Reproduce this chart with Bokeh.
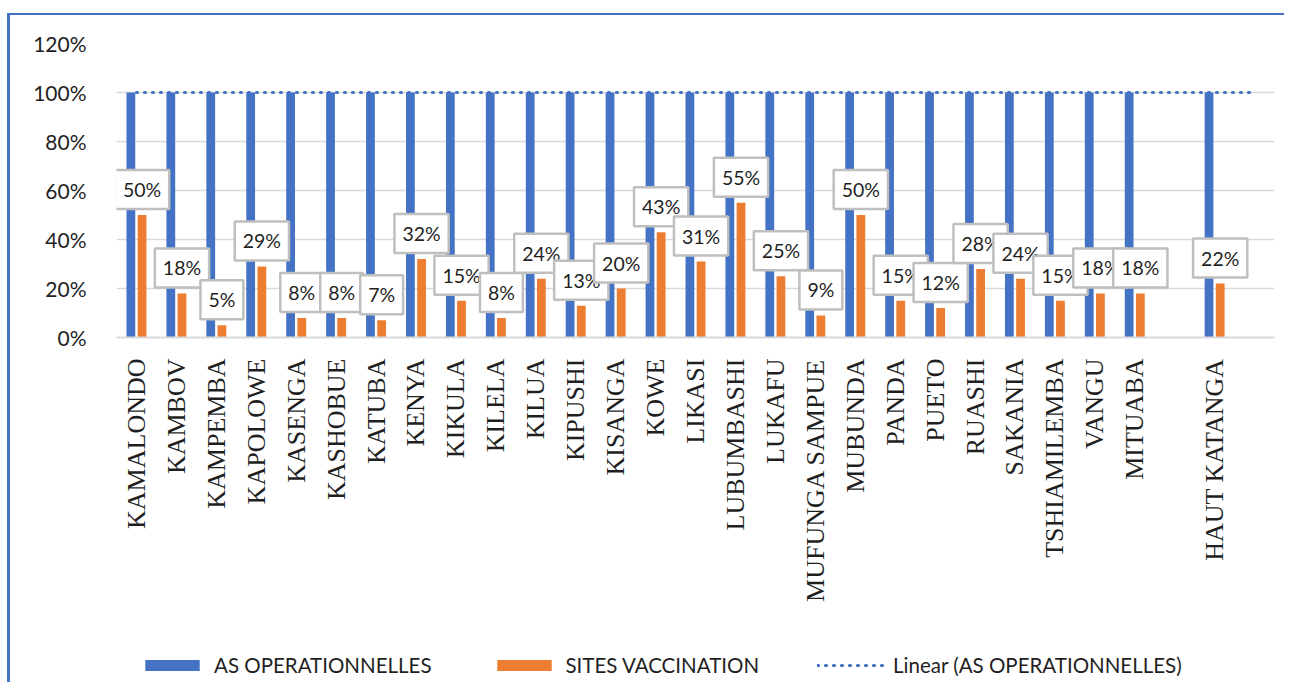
import numpy as np
from bokeh.plotting import figure
from bokeh.layouts import column
from bokeh.models import (ColumnDataSource, FixedTicker, NumeralTickFormatter,
                          Legend, LegendItem, Range1d)
from bokeh.core.properties import value
from bokeh.embed import file_html
from bokeh.resources import INLINE

# ---- data ----
categories = ["KAMALONDO", "KAMBOV", "KAMPEMBA", "KAPOLOWE", "KASENGA", "KASHOBUE", "KATUBA",
              "KENYA", "KIKULA", "KILELA", "KILUA", "KIPUSHI", "KISANGA", "KOWE", "LIKASI",
              "LUBUMBASHI", "LUKAFU", "MUFUNGA SAMPUE", "MUBUNDA", "PANDA", "PUETO", "RUASHI",
              "SAKANIA", "TSHIAMILEMBA", "VANGU", "MITUABA", "", "HAUT KATANGA", ""]
as_operationnelles = [1.00, 1.00, 1.00, 1.00, 1.00, 1.00, 1.00, 1.00, 1.00, 1.00, 1.00, 1.00, 1.00,
                      1.00, 1.00, 1.00, 1.00, 1.00, 1.00, 1.00, 1.00, 1.00, 1.00, 1.00, 1.00, 1.00,
                      None, 1.00, None]
sites_vaccination = [0.50, 0.18, 0.05, 0.29, 0.08, 0.08, 0.07, 0.32, 0.15, 0.08, 0.24, 0.13, 0.20,
                     0.43, 0.31, 0.55, 0.25, 0.09, 0.50, 0.15, 0.12, 0.28, 0.24, 0.15, 0.18, 0.18,
                     None, 0.22, None]
y_ticks = [0, 0.2, 0.4, 0.6, 0.8, 1.0, 1.2]
legend_labels = ["AS OPERATIONNELLES", "SITES VACCINATION", "Linear (AS OPERATIONNELLES)"]

BLUE = "#4472C4"
ORANGE = "#ED7D31"
GRID = "#D9D9D9"
TXT = "#1f1f1f"

idx = [i for i, c in enumerate(categories) if c]
x_all = list(range(len(categories)))

blue_src = ColumnDataSource(dict(
    x=[i - 0.14 for i in idx],
    top=[as_operationnelles[i] for i in idx]))
orange_src = ColumnDataSource(dict(
    x=[i + 0.14 for i in idx],
    top=[sites_vaccination[i] for i in idx],
    label=["{:.0f}%".format(sites_vaccination[i] * 100) for i in idx]))

# linear trend of AS OPERATIONNELLES
fx = np.array(idx, dtype=float)
fy = np.array([as_operationnelles[i] for i in idx], dtype=float)
slope, intercept = np.polyfit(fx, fy, 1)
trend_x = [x_all[0], x_all[-1]]
trend_y = [slope * v + intercept for v in trend_x]

# ---- main chart ----
xr = Range1d(-0.5, len(categories) - 0.5)
p = figure(width=1274, height=602, output_backend="svg", toolbar_location=None,
           x_range=xr, y_range=Range1d(0, 1.2),
           min_border_left=106, min_border_right=10, min_border_top=28, min_border_bottom=280)
p.outline_line_color = None
p.background_fill_color = "white"
p.border_fill_color = "white"

p.vbar(x="x", top="top", width=0.22, bottom=0, source=blue_src,
       fill_color=BLUE, line_color=None)
p.vbar(x="x", top="top", width=0.22, bottom=0, source=orange_src,
       fill_color=ORANGE, line_color=None)
p.line(trend_x, trend_y, line_color=BLUE, line_width=3.2, line_dash="1 7", line_cap="round")

p.text(x="x", y="top", text="label", source=orange_src,
       text_align="center", text_baseline="bottom", y_offset=-6,
       text_font=value("Lato"), text_font_size="19.5px", text_color=TXT,
       background_fill_color="white", border_line_color="#BFBFBF",
       border_line_width=2.5, padding=(8, 8))

p.xaxis.ticker = FixedTicker(ticks=idx)
p.xaxis.major_label_overrides = {i: categories[i] for i in idx}
p.xaxis.major_label_orientation = np.pi / 2
p.xaxis.major_label_text_font = "Liberation Serif"
p.xaxis.major_label_text_font_size = "26px"
p.xaxis.major_label_text_color = TXT
p.xaxis.major_label_standoff = 21
p.xaxis.major_tick_line_color = None
p.xaxis.major_tick_out = 0
p.xaxis.major_tick_in = 0
p.xaxis.minor_tick_line_color = None
p.xaxis.axis_line_color = GRID
p.xaxis.axis_line_width = 2

p.yaxis.ticker = FixedTicker(ticks=y_ticks)
p.yaxis.formatter = NumeralTickFormatter(format="0%")
p.yaxis.major_label_text_font = "Lato"
p.yaxis.major_label_text_font_size = "21px"
p.yaxis.major_label_text_color = TXT
p.yaxis.major_label_standoff = 24
p.yaxis.major_tick_line_color = None
p.yaxis.minor_tick_line_color = None
p.yaxis.axis_line_color = None

p.xgrid.grid_line_color = None
p.ygrid.grid_line_color = GRID
p.ygrid.grid_line_width = 1.5
p.ygrid.ticker = FixedTicker(ticks=y_ticks)

# ---- legend strip: same series/styles, drawn outside its visible y-range so only the legend shows ----
pl = figure(width=1274, height=65, output_backend="svg", toolbar_location=None,
            x_range=xr, y_range=Range1d(5, 6),
            x_axis_location=None, y_axis_location=None,
            min_border_left=0, min_border_right=0, min_border_top=0, min_border_bottom=0)
pl.outline_line_color = None
pl.xgrid.grid_line_color = None
pl.ygrid.grid_line_color = None
pl.background_fill_color = "white"
pl.border_fill_color = "white"
lb = pl.vbar(x="x", top="top", width=0.22, bottom=0, source=blue_src,
             fill_color=BLUE, line_color=None)
lo = pl.vbar(x="x", top="top", width=0.22, bottom=0, source=orange_src,
             fill_color=ORANGE, line_color=None)
lt = pl.line(trend_x, trend_y, line_color=BLUE, line_width=3.2, line_dash="1 7", line_cap="round")

legend = Legend(items=[
    LegendItem(label=legend_labels[0], renderers=[lb], index=0),
    LegendItem(label=legend_labels[1], renderers=[lo], index=0),
    LegendItem(label=legend_labels[2], renderers=[lt]),
], orientation="horizontal", location=(22, 5))
legend.glyph_width = 68
legend.glyph_height = 14
legend.label_standoff = 8
legend.spacing = 58
legend.padding = 0
legend.margin = 0
legend.border_line_color = None
legend.background_fill_alpha = 0
legend.label_text_font = "Lato"
legend.label_text_font_size = "20.5px"
legend.label_text_color = TXT
legend.label_height = 20
pl.add_layout(legend, "center")

layout = column(p, pl, spacing=0)
layout.styles = {"position": "relative", "left": "7px", "top": "13px",
                 "border-left": "3px solid #4472C4", "border-top": "2px solid #4472C4"}

open("out.html", "w").write(file_html(layout, INLINE))
